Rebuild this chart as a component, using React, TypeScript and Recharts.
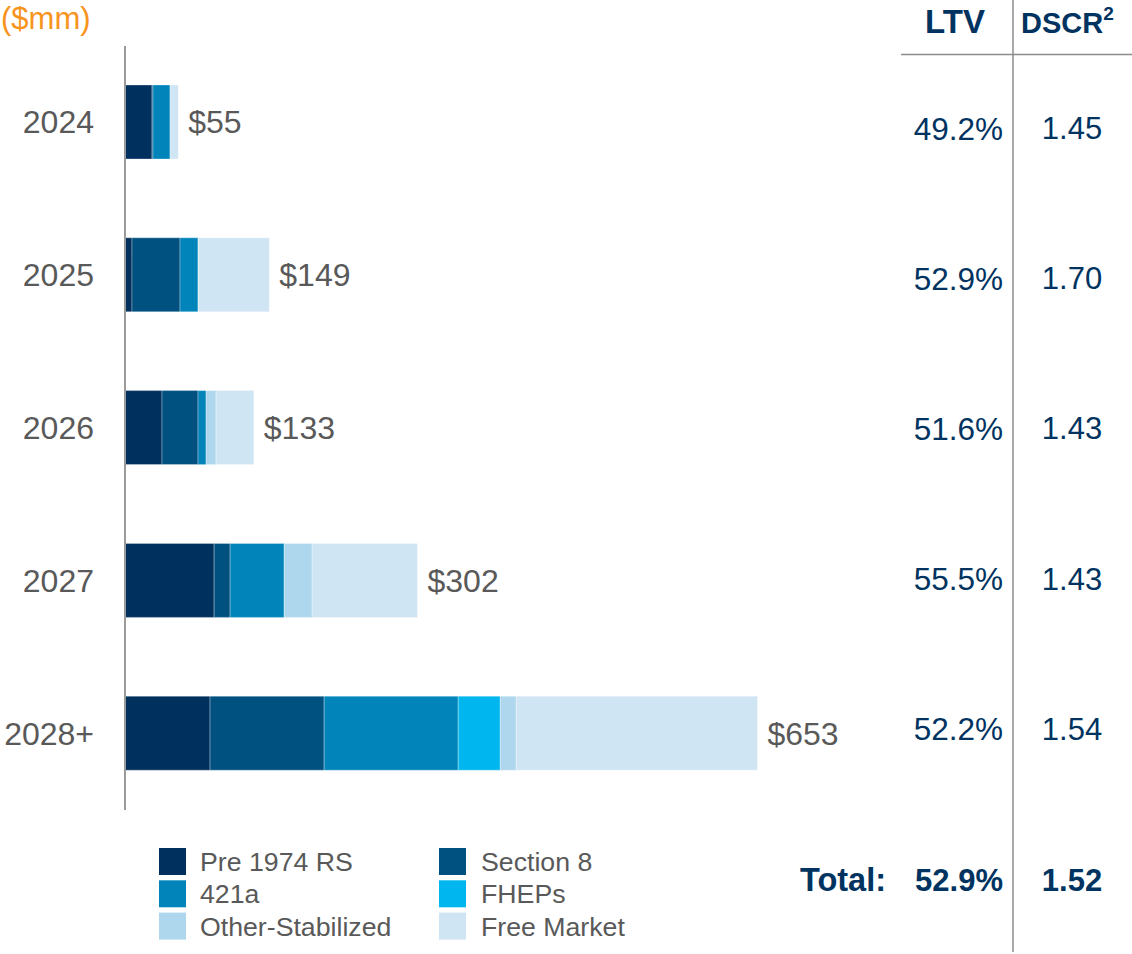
import React from 'react';
import { BarChart, Bar, XAxis, YAxis, LabelList } from 'recharts';

const years = ['2024', '2025', '2026', '2027', '2028+'];
const pre1974 = [27.9, 7.2, 38.2, 92, 87.8];
const section8 = [1, 49.6, 37.2, 16.5, 117.8];
const a421 = [17.6, 18.6, 8.3, 55.8, 138.4];
const fheps = [0, 0, 0, 0, 43.4];
const otherStab = [0, 0.6, 10.3, 28.9, 16.5];
const freeMarket = [8.5, 73, 39, 108.8, 249.1];
const totals = [55, 149, 133, 302, 653];
const ltv = ['49.2%', '52.9%', '51.6%', '55.5%', '52.2%'];
const dscr = ['1.45', '1.70', '1.43', '1.43', '1.54'];
const totalLtv = '52.9%';
const totalDscr = '1.52';

const seriesNames = ['Pre 1974 RS', 'Section 8', '421a', 'FHEPs', 'Other-Stabilized', 'Free Market'];
const seriesKeys = ['pre1974', 'section8', 'a421', 'fheps', 'otherStab', 'freeMarket'];
const colors = ['#00305E', '#00517F', '#0084BA', '#00B6EF', '#AED7ED', '#CFE5F3'];

const data = years.map((y, i) => ({
  year: y,
  pre1974: pre1974[i],
  section8: section8[i],
  a421: a421[i],
  fheps: fheps[i],
  otherStab: otherStab[i],
  freeMarket: freeMarket[i],
  total: totals[i],
}));

const FONT = '"Liberation Sans", Arial, sans-serif';
const GRAY = '#595959';
const NAVY = '#00335F';

const YTick = (props: any) => {
  const { y, payload } = props;
  return (
    <text x={94} y={y} textAnchor="end" dominantBaseline="central" fill={GRAY} fontSize={32} fontFamily={FONT}>
      {payload.value}
    </text>
  );
};

export default function App() {
  const legendRows = [
    [0, 1],
    [2, 3],
    [4, 5],
  ];
  return (
    <div style={{ position: 'absolute', left: 0, top: 0, width: 1132, height: 954, background: '#fff', fontFamily: FONT }}>
      <BarChart
        width={1132}
        height={954}
        data={data}
        layout="vertical"
        margin={{ top: 46, right: 329, bottom: 144, left: 0 }}
        barSize={74}
      >
        <XAxis type="number" domain={[0, 700]} hide />
        <YAxis
          type="category"
          dataKey="year"
          width={125}
          axisLine={{ stroke: '#9a9a9a', strokeWidth: 2 }}
          tickLine={false}
          tick={<YTick />}
        />
        {seriesKeys.map((k, i) => (
          <Bar
            key={k}
            dataKey={k}
            name={seriesNames[i]}
            stackId="a"
            fill={colors[i]}
            stroke="#ffffff"
            strokeOpacity={0.3}
            strokeWidth={1}
            isAnimationActive={false}
          >
            {k === 'freeMarket' && (
              <LabelList
                dataKey="total"
                position="right"
                offset={10}
                formatter={(v: any) => `$${v}`}
                style={{ fill: GRAY, fontSize: 32, fontFamily: FONT }}
              />
            )}
          </Bar>
        ))}
      </BarChart>

      <svg width={1132} height={954} style={{ position: 'absolute', left: 0, top: 0, pointerEvents: 'none' }}>
        <text x={1} y={29} fill="#F7941D" fontSize={31} fontFamily={FONT}>($mm)</text>
        <line x1={901} y1={54.5} x2={1132} y2={54.5} stroke="#8c8c8c" strokeWidth={1.5} />
        <line x1={1013} y1={0} x2={1013} y2={952} stroke="#8c8c8c" strokeWidth={1.5} />
        <text x={985} y={33} textAnchor="end" fill={NAVY} fontSize={33} fontWeight="bold" fontFamily={FONT}>LTV</text>
        <text x={1021} y={33} fill={NAVY} fontSize={29} fontWeight="bold" fontFamily={FONT}>
          DSCR<tspan dy={-13} fontSize={19}>2</tspan>
        </text>
        {ltv.map((v, i) => (
          <text key={'l' + i} x={1003} y={128.5 + i * 150.2} textAnchor="end" dominantBaseline="central" fill={NAVY} fontSize={31.5} fontFamily={FONT}>
            {v}
          </text>
        ))}
        {dscr.map((v, i) => (
          <text key={'d' + i} x={1072} y={128.5 + i * 150.2} textAnchor="middle" dominantBaseline="central" fill={NAVY} fontSize={31} fontFamily={FONT}>
            {v}
          </text>
        ))}
        <text x={886} y={880} textAnchor="end" dominantBaseline="central" fill={NAVY} fontSize={32.5} fontWeight="bold" fontFamily={FONT}>Total:</text>
        <text x={1003} y={880} textAnchor="end" dominantBaseline="central" fill={NAVY} fontSize={31} fontWeight="bold" fontFamily={FONT}>{totalLtv}</text>
        <text x={1072} y={880} textAnchor="middle" dominantBaseline="central" fill={NAVY} fontSize={31} fontWeight="bold" fontFamily={FONT}>{totalDscr}</text>
        {legendRows.map((row, r) =>
          row.map((si, c) => (
            <g key={'lg' + si}>
              <rect x={159 + c * 280} y={848 + r * 32.3} width={27} height={27} fill={colors[si]} />
              <text x={200 + c * 281} y={862 + r * 32.3} dominantBaseline="central" fill={GRAY} fontSize={26.7} fontFamily={FONT}>
                {seriesNames[si]}
              </text>
            </g>
          ))
        )}
      </svg>
    </div>
  );
}
